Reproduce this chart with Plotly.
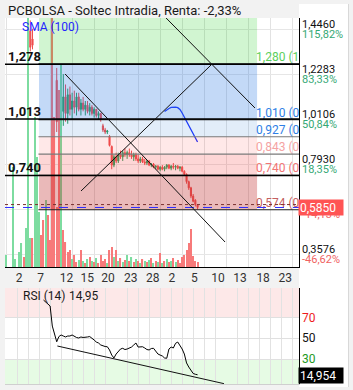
import plotly.graph_objects as go

# ---------------- data ----------------
title_text = "PCBOLSA - Soltec Intradia, Renta: -2,33%"

# x tick labels (dates) and their positions on the bar-index axis
tick_text = ["2", "7", "12", "15", "20", "23", "28", "2", "5", "10", "13", "18", "23"]
tick_pos = [5.9, 15.7, 27.5, 36.9, 46.3, 56.6, 66.6, 75.3, 85.5, 96.3, 106.3, 116.8, 126.8]

# candles (bar index, open, high, low, close)
cdl_x = [11, 12, 23] + list(range(26, 88))
cdl_open = [1.44, 1.40, 1.20,
            1.05, 1.12, 1.04, 1.13, 1.06, 1.10, 1.07, 1.12, 1.06, 1.09, 1.06, 1.08, 1.05, 1.07, 1.04, 1.06, 1.03, 1.04,
            0.98, 0.96, 0.95, 0.93, 0.88, 0.79,
            0.83, 0.81, 0.84, 0.83, 0.85, 0.84, 0.85, 0.84, 0.83, 0.84, 0.82,
            0.81, 0.82, 0.805, 0.80, 0.81, 0.79, 0.795, 0.78, 0.785,
            0.77, 0.78, 0.77, 0.78, 0.79, 0.775, 0.785, 0.78, 0.785, 0.775, 0.78,
            0.76, 0.745, 0.71, 0.68, 0.64, 0.62, 0.599]
cdl_high = [1.49, 1.45, 1.26,
            1.23, 1.18, 1.16, 1.17, 1.14, 1.15, 1.14, 1.14, 1.11, 1.12, 1.10, 1.10, 1.09, 1.08, 1.07, 1.06, 1.05, 1.04,
            0.99, 0.97, 0.96, 0.935, 0.885, 0.84,
            0.85, 0.85, 0.86, 0.86, 0.87, 0.86, 0.87, 0.86, 0.85, 0.85, 0.84,
            0.83, 0.83, 0.82, 0.815, 0.815, 0.80, 0.80, 0.79, 0.79,
            0.785, 0.79, 0.785, 0.795, 0.795, 0.79, 0.80, 0.79, 0.79, 0.785, 0.785,
            0.765, 0.75, 0.715, 0.685, 0.65, 0.625, 0.60]
cdl_low = [1.34, 1.35, 0.95,
           0.98, 1.00, 0.99, 1.03, 1.01, 1.04, 1.03, 1.05, 1.03, 1.05, 1.03, 1.04, 1.03, 1.03, 1.02, 1.02, 1.01, 1.00,
           0.95, 0.94, 0.94, 0.88, 0.77, 0.78,
           0.80, 0.80, 0.82, 0.81, 0.83, 0.82, 0.83, 0.82, 0.81, 0.81, 0.80,
           0.80, 0.80, 0.79, 0.79, 0.785, 0.78, 0.775, 0.77, 0.765,
           0.76, 0.765, 0.76, 0.77, 0.77, 0.765, 0.77, 0.765, 0.77, 0.76, 0.755,
           0.74, 0.70, 0.67, 0.63, 0.61, 0.59, 0.575]
cdl_close = [1.36, 1.37, 1.00,
             1.12, 1.04, 1.13, 1.06, 1.10, 1.07, 1.12, 1.06, 1.09, 1.06, 1.08, 1.05, 1.07, 1.04, 1.06, 1.03, 1.04, 1.01,
             0.96, 0.95, 0.955, 0.885, 0.79, 0.83,
             0.81, 0.84, 0.83, 0.85, 0.84, 0.85, 0.84, 0.83, 0.84, 0.82, 0.81,
             0.82, 0.805, 0.80, 0.81, 0.79, 0.795, 0.78, 0.785, 0.77,
             0.78, 0.77, 0.78, 0.79, 0.775, 0.785, 0.78, 0.785, 0.775, 0.78, 0.76,
             0.745, 0.71, 0.68, 0.64, 0.615, 0.599, 0.585]

# volume (thousands) per bar index 0..87 and direction (1 = up / green)
vol_x = list(range(0, 88))
vol = [120, 0, 0, 1000, 80, 0, 150, 240, 100, 390,
       3000, 290, 290, 1500, 1100, 550, 320, 470, 670, 520,
       270, 3000, 1500, 600, 1770, 2030, 370, 250, 150, 170,
       80, 120, 50, 70, 170, 60, 40, 80, 100, 60,
       50, 90, 40, 120, 60, 80, 40, 170, 200, 100,
       170, 60, 90, 50, 70, 120, 60, 100, 50, 80,
       60, 40, 80, 60, 50, 70, 90, 40, 60, 50,
       140, 40, 60, 80, 50, 60, 90, 50, 70, 40,
       100, 120, 170, 240, 380, 110, 60, 50]
vol_up = [1, 1, 1, 1, 1, 1, 1, 1, 0, 1,
          1, 1, 0, 1, 1, 1, 0, 0, 1, 0,
          0, 0, 0, 0, 0, 1, 0, 0, 0, 0,
          1, 0, 0, 1, 0, 1, 0, 1, 0, 1,
          0, 1, 0, 0, 0, 0, 1, 0, 0, 1,
          0, 1, 0, 1, 0, 1, 0, 1, 0, 1,
          0, 1, 0, 1, 0, 1, 0, 1, 0, 1,
          0, 1, 0, 1, 0, 1, 0, 1, 0, 0,
          0, 0, 0, 0, 0, 0, 0, 0]

# SMA(100)
sma_x = list(range(72, 88))
sma_v = [1.049, 1.0575, 1.064, 1.069, 1.070, 1.070, 1.068, 1.059, 1.042, 1.023,
         1.003, 0.984, 0.965, 0.943, 0.9235, 0.902]

# RSI(14)
rsi_x = list(range(17, 88))
rsi_v = [86.8, 84.9, 83.9, 81.1, 61.8, 54.1, 46.7, 51.7, 53.2, 52.2,
         51.3, 52.2, 52.2, 53.2, 51.7, 50.8, 50.3, 51.3, 50.8, 50.8,
         51.3, 51.7, 50.3, 48.4, 46.4, 45.5, 43.6, 42.6, 42.1, 41.9,
         38.8, 33.9, 31.1, 34.9, 37.1, 39.7, 40.4, 39.2, 39.7, 40.4,
         41.6, 43.6, 45.5, 41.6, 42.1, 41.9, 40.7, 39.2, 38.8, 40.2,
         40.4, 37.8, 34.9, 33.9, 33.0, 31.1, 30.8, 39.7, 41.6, 40.7,
         45.2, 46.4, 43.1, 39.7, 34.9, 26.3, 22.4, 19.0, 16.2, 15.4, 14.95]
rsi_last = 14.954

# Fibonacci retracement levels
fib_levels = [1.280, 1.010, 0.927, 0.843, 0.740, 0.574]
fib_texts = ["1,280 (1)", "1,010 (0,618)", "0,927 (0,5)", "0,843 (0,382)", "0,740 (0,236)", "0,574 (0)"]
fib_colors = ["#5ccf5c", "#2f7fe6", "#2f7fe6", "#f5a3a3", "#f27474", "#c46060"]

# user horizontal levels
levels = [1.278, 1.013, 0.740]
level_texts = ["1,278", "1,013", "0,740"]

# right axis ticks
r_ticks = [1.4460, 1.2283, 1.0106, 0.7930, 0.5753, 0.3576]
r_price = ["1,4460", "1,2283", "1,0106", "0,7930", "0,5753", "0,3576"]
r_pct = ["115,82%", "83,33%", "50,84%", "18,35%", "-14,13%", "-46,62%"]

last_price = 0.585
prev_close = 0.599

# trend lines (bar index, price)
down_line = [(26.8, 1.2307), (99.5, 0.4179)]
up_line = [(34.05, 0.6647), (93.6, 1.2791)]
right_line = [(72.7, 1.5016), (113.1, 1.0662)]
rsi_line = [(23.3, 42.6), (99.0, 6.4)]

# ---------------- styling ----------------
FONT = "Roboto"
GREEN = "#2e9e5e"
RED = "#ef4f4f"
VGREEN = "#7ddca0"
VRED = "#f77a7a"
XR = [-0.5, 133.1]
YR = [0.2970, 1.5016]
RSIR = [6.06, 98.4]


def px_x(p):
    return (p - 5) / 294.0


def px_y(p):
    return (384 - p) / 366.0


fig = go.Figure()

fig.add_trace(go.Bar(x=vol_x, y=vol, width=0.5,
                     marker=dict(color=[VGREEN if u else VRED for u in vol_up], line=dict(width=0)),
                     xaxis="x", yaxis="y3", hoverinfo="skip"))

fig.add_trace(go.Candlestick(x=cdl_x, open=cdl_open, high=cdl_high, low=cdl_low, close=cdl_close,
                             increasing=dict(line=dict(color=GREEN, width=1), fillcolor=GREEN),
                             decreasing=dict(line=dict(color=RED, width=1), fillcolor=RED),
                             whiskerwidth=0, xaxis="x", yaxis="y", hoverinfo="skip"))

fig.add_trace(go.Scatter(x=sma_x, y=sma_v, mode="lines", line=dict(color="#1f35ff", width=1.3),
                         xaxis="x", yaxis="y", hoverinfo="skip"))

fig.add_trace(go.Scatter(x=[113.6] * len(fib_levels), y=fib_levels, text=fib_texts, mode="text",
                         textposition="top right", cliponaxis=True,
                         textfont=dict(family=FONT, size=12, color=fib_colors),
                         xaxis="x", yaxis="y", hoverinfo="skip"))

fig.add_trace(go.Scatter(x=rsi_x, y=rsi_v, mode="lines", line=dict(color="black", width=1),
                         xaxis="x2", yaxis="y2", hoverinfo="skip"))

shapes = []
# Fibonacci bands (semi-transparent, above the marks)
bands = [
    (1.280, 1.70, "rgba(0,200,0,0.18)"),
    (1.010, 1.280, "rgba(33,114,225,0.27)"),
    (0.927, 1.010, "rgba(13,105,205,0.12)"),
    (0.843, 0.927, "rgba(255,25,25,0.10)"),
    (0.740, 0.843, "rgba(245,50,50,0.20)"),
    (0.574, 0.740, "rgba(191,43,43,0.33)"),
]
for lo, hi, col in bands:
    shapes.append(dict(type="rect", xref="x", yref="y", x0=14.95, x1=114.05, y0=lo, y1=hi,
                       fillcolor=col, line=dict(width=0), layer="above"))
fib_line_cols = ["#222222", "#222222", "#7a7a7a", "#7a7a7a", "#222222", "#222222"]
for lv, lc in zip(fib_levels, fib_line_cols):
    shapes.append(dict(type="line", xref="x", yref="y", x0=14.7, x1=140, y0=lv, y1=lv,
                       line=dict(color=lc, width=1.2), layer="above"))
for lv in levels:
    shapes.append(dict(type="line", xref="x", yref="y", x0=XR[0], x1=XR[1], y0=lv, y1=lv,
                       line=dict(color="black", width=1.6), layer="above"))
shapes.append(dict(type="line", xref="x", yref="y", x0=XR[0], x1=XR[1], y0=prev_close, y1=prev_close,
                   line=dict(color="#7a3030", width=1, dash="dot"), layer="above"))
shapes.append(dict(type="line", xref="x", yref="y", x0=XR[0], x1=XR[1], y0=last_price, y1=last_price,
                   line=dict(color="#2b2bff", width=1, dash="dash"), layer="above"))
for ln in (down_line, up_line, right_line):
    shapes.append(dict(type="line", xref="x", yref="y", x0=ln[0][0], y0=ln[0][1], x1=ln[1][0], y1=ln[1][1],
                       line=dict(color="#111111", width=1), layer="above"))
# RSI zones
shapes.append(dict(type="rect", xref="x2", yref="y2", x0=XR[0], x1=XR[1], y0=70, y1=RSIR[1],
                   fillcolor="#fde8e8", line=dict(width=0), layer="below"))
shapes.append(dict(type="rect", xref="x2", yref="y2", x0=XR[0], x1=XR[1], y0=RSIR[0], y1=30,
                   fillcolor="#e6fbe4", line=dict(width=0), layer="below"))
shapes.append(dict(type="line", xref="x2", yref="y2", x0=rsi_line[0][0], y0=rsi_line[0][1],
                   x1=rsi_line[1][0], y1=rsi_line[1][1], line=dict(color="#111111", width=1), layer="above"))
# white right-axis column
shapes.append(dict(type="rect", xref="paper", yref="paper", x0=1.0, x1=px_x(348), y0=px_y(387), y1=px_y(4),
                   fillcolor="white", line=dict(width=0), layer="below"))
shapes.append(dict(type="line", xref="paper", yref="paper", x0=px_x(348.5), x1=px_x(348.5), y0=px_y(387), y1=px_y(4),
                   line=dict(color="#d8d8d8", width=1), layer="below"))

ann = []
ann.append(dict(text=title_text, xref="paper", yref="paper", x=px_x(6), y=px_y(10.5), xanchor="left",
                yanchor="middle", showarrow=False, font=dict(family=FONT, size=13, color="#1a1a1a")))
ann.append(dict(text="SMA (100)", xref="paper", yref="paper", x=px_x(20), y=px_y(27.5), xanchor="left",
                yanchor="middle", showarrow=False, font=dict(family=FONT, size=12, color="#2424ff")))
ann.append(dict(text="RSI (14)", xref="paper", yref="paper", x=px_x(21), y=px_y(296), xanchor="left",
                yanchor="middle", showarrow=False, font=dict(family=FONT, size=12, color="#1a1a1a")))
ann.append(dict(text="14,95", xref="paper", yref="paper", x=px_x(67), y=px_y(296), xanchor="left",
                yanchor="middle", showarrow=False, font=dict(family=FONT, size=12, color="#1a1a1a")))
for lv, tx in zip(levels, level_texts):
    ann.append(dict(text="<b>" + tx + "</b>", xref="paper", yref="y", x=0, y=lv, xanchor="left",
                    yanchor="bottom", xshift=1, yshift=-2, showarrow=False,
                    font=dict(family=FONT, size=13, color="#111111")))
for tv, pt, pc in zip(r_ticks, r_price, r_pct):
    pcol = "#35a874" if not pc.startswith("-") else "#f06262"
    ann.append(dict(text=pt, xref="paper", yref="y", x=1, y=tv, xanchor="left", yanchor="middle",
                    xshift=1, yshift=5, showarrow=False, font=dict(family=FONT, size=11, color="#111111")))
    ann.append(dict(text=pc, xref="paper", yref="y", x=1, y=tv, xanchor="left", yanchor="middle",
                    xshift=1, yshift=-5, showarrow=False, font=dict(family=FONT, size=11, color=pcol)))
ann.append(dict(text="0,5850", xref="paper", yref="y", x=1, y=last_price, xanchor="left", yanchor="middle",
                xshift=-1, showarrow=False, bgcolor="#ff5454", width=42, height=13, align="left",
                font=dict(family=FONT, size=12, color="white")))
for val, col in ((70, "#ee1c1c"), (50, "#111111"), (30, "#1d9a1d")):
    ann.append(dict(text=str(val), xref="paper", yref="y2", x=1, y=val, xanchor="left", yanchor="middle",
                    xshift=1, showarrow=False, font=dict(family=FONT, size=12, color=col)))
ann.append(dict(text="14,954", xref="paper", yref="y2", x=1, y=rsi_last, xanchor="left", yanchor="middle",
                xshift=-1, yshift=-1, showarrow=False, bgcolor="black", width=42, height=13, align="left",
                font=dict(family=FONT, size=12, color="white")))

fig.update_layout(
    width=353, height=390, margin=dict(l=5, r=54, t=18, b=6),
    paper_bgcolor="#f2f2f2", plot_bgcolor="white", showlegend=False,
    font=dict(family=FONT, size=12, color="#333333"),
    xaxis=dict(domain=[0, 1], anchor="y", range=XR, tickmode="array", tickvals=tick_pos, ticktext=tick_text,
               showgrid=False, showline=True, linecolor="black", linewidth=1, ticks="", zeroline=False,
               tickfont=dict(family=FONT, size=12, color="#333333"),
               minor=dict(tickmode="linear", tick0=0, dtick=10, showgrid=True, gridcolor="#e2e2e2", ticks=""),
               rangeslider=dict(visible=False), fixedrange=True),
    yaxis=dict(domain=[px_y(267), 1], range=YR, side="right", anchor="x", showline=True, linecolor="black",
               tickmode="array", tickvals=r_ticks, showticklabels=False, ticks="", gridcolor="#e6e6e6",
               zeroline=False),
    yaxis3=dict(overlaying="y", range=[0, 2490], visible=False, anchor="x"),
    xaxis2=dict(domain=[0, 1], anchor="y2", range=XR, showticklabels=False, showgrid=False, ticks="",
                showline=True, linecolor="#cfcfcf", zeroline=False,
                minor=dict(tickmode="linear", tick0=0, dtick=5, showgrid=True, gridcolor="#e2e2e2", ticks="")),
    yaxis2=dict(domain=[0, px_y(288)], range=RSIR, side="right", anchor="x2", showline=True, linecolor="black",
                tickmode="array", tickvals=[30, 50, 70], showticklabels=False, ticks="", gridcolor="#e0e0e0",
                zeroline=False),
    shapes=shapes, annotations=ann,
)

fig.write_html("out.html")
